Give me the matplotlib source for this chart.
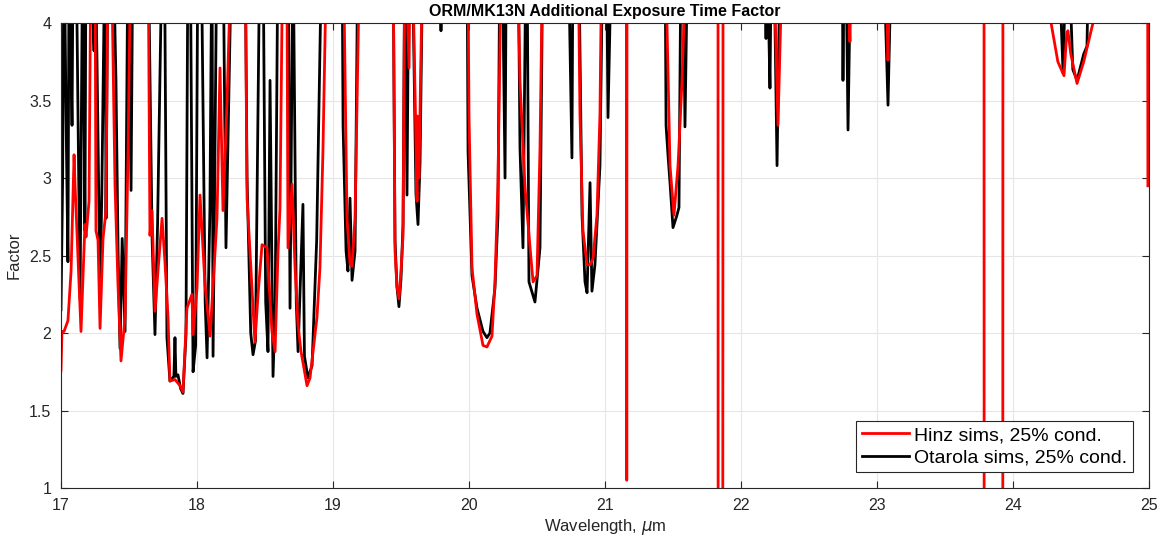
# ORM/MK13N additional exposure time factor, Hinz vs Otarola sims
import numpy as np
import matplotlib
matplotlib.use("Agg")
import matplotlib.pyplot as plt

plt.rcParams['font.family'] = ['Liberation Sans', 'DejaVu Sans']

# values above 4 run off the top of the axes
hinz_wl = [17.000, 17.007, 17.022, 17.051, 17.074, 17.096, 17.103, 17.125, 17.147, 17.176,
           17.184, 17.206, 17.221, 17.250, 17.257, 17.272, 17.287, 17.309, 17.331, 17.346,
           17.368, 17.397, 17.419, 17.441, 17.471, 17.493, 17.515, 17.640, 17.654, 17.669,
           17.691, 17.713, 17.743, 17.765, 17.787, 17.801, 17.838, 17.875, 17.897, 17.926,
           17.963, 17.971, 18.000, 18.022, 18.059, 18.096, 18.147, 18.169, 18.191, 18.221,
           18.257, 18.353, 18.368, 18.426, 18.449, 18.478, 18.515, 18.551, 18.574, 18.596,
           18.610, 18.632, 18.660, 18.669, 18.699, 18.721, 18.743, 18.765, 18.809, 18.831,
           18.853, 18.882, 18.904, 18.926, 18.956, 19.074, 19.103, 19.125, 19.140, 19.162,
           19.199, 19.441, 19.456, 19.470, 19.485, 19.500, 19.515, 19.529, 19.559, 19.570,
           19.581, 19.618, 19.620, 19.632, 19.662, 19.990, 20.000, 20.022, 20.059, 20.103,
           20.132, 20.169, 20.191, 20.213, 20.240, 20.353, 20.375, 20.412, 20.449, 20.471,
           20.500, 20.522, 20.544, 20.801, 20.816, 20.838, 20.868, 20.890, 20.912, 20.941,
           20.963, 20.978, 21.158, 21.160, 21.162, 21.441, 21.478, 21.507, 21.537, 21.566,
           21.603, 21.831, 21.832, 21.866, 21.868, 22.235, 22.272, 22.309, 22.780, 22.801,
           22.815, 23.060, 23.081, 23.100, 23.787, 23.788, 23.925, 23.926, 24.243, 24.280,
           24.330, 24.375, 24.395, 24.404, 24.425, 24.471, 24.520, 24.588, 24.620, 24.990,
           24.992]
hinz_f = [1.76, 2.01, 2.01, 2.08, 2.40, 3.15, 2.96, 2.48, 2.01, 2.70,
          2.62, 2.85, 4.60, 4.60, 2.66, 2.60, 2.03, 2.61, 2.79, 4.60,
          4.60, 2.96, 2.31, 1.82, 2.10, 3.17, 4.60, 4.60, 2.63, 2.79,
          2.14, 2.40, 2.74, 2.45, 2.10, 1.69, 1.70, 1.66, 1.62, 2.16,
          2.25, 1.99, 2.29, 2.89, 2.31, 1.98, 2.74, 3.71, 2.79, 3.50,
          4.60, 4.60, 2.87, 1.94, 2.25, 2.57, 2.55, 2.01, 1.88, 2.53,
          2.80, 4.60, 4.60, 2.55, 2.96, 2.42, 2.05, 1.88, 1.66, 1.71,
          1.88, 2.10, 2.42, 3.17, 4.60, 4.60, 2.74, 2.45, 2.43, 2.74,
          4.60, 4.60, 2.53, 2.30, 2.22, 2.40, 2.63, 4.60, 3.71, 4.60,
          4.60, 2.85, 3.40, 3.00, 4.60, 4.60, 3.40, 2.42, 2.12, 1.92,
          1.91, 1.98, 2.33, 2.97, 4.60, 4.60, 3.62, 2.94, 2.55, 2.33,
          2.37, 3.19, 4.60, 4.60, 3.41, 2.66, 2.44, 2.44, 2.48, 2.76,
          3.41, 4.60, 4.60, 1.05, 4.60, 4.60, 3.08, 2.76, 3.08, 3.62,
          4.60, 4.60, 0.50, 0.50, 4.60, 4.60, 3.34, 4.60, 4.60, 3.88,
          4.60, 4.60, 3.76, 4.60, 4.60, 0.50, 0.50, 4.60, 4.60, 4.00,
          3.75, 3.66, 3.93, 3.95, 3.80, 3.61, 3.75, 4.00, 4.60, 4.60,
          2.95]

otarola_wl = [17.000, 17.012, 17.022, 17.040, 17.051, 17.060, 17.081, 17.090, 17.110, 17.140,
              17.160, 17.176, 17.184, 17.213, 17.243, 17.250, 17.265, 17.287, 17.300, 17.324,
              17.331, 17.346, 17.382, 17.404, 17.420, 17.434, 17.450, 17.471, 17.493, 17.515,
              17.529, 17.640, 17.670, 17.691, 17.710, 17.745, 17.760, 17.779, 17.801, 17.830,
              17.838, 17.845, 17.860, 17.880, 17.897, 17.919, 17.934, 17.950, 17.971, 17.990,
              18.007, 18.030, 18.060, 18.074, 18.095, 18.110, 18.118, 18.147, 18.191, 18.213,
              18.257, 18.353, 18.368, 18.395, 18.412, 18.430, 18.463, 18.485, 18.505, 18.522,
              18.537, 18.559, 18.575, 18.596, 18.670, 18.684, 18.706, 18.730, 18.743, 18.779,
              18.790, 18.816, 18.846, 18.880, 18.904, 18.919, 19.066, 19.074, 19.096, 19.110,
              19.125, 19.140, 19.162, 19.184, 19.441, 19.456, 19.470, 19.485, 19.500, 19.515,
              19.529, 19.544, 19.559, 19.581, 19.610, 19.625, 19.640, 19.662, 19.790, 19.794,
              19.798, 19.985, 19.993, 20.022, 20.059, 20.103, 20.132, 20.154, 20.191, 20.213,
              20.228, 20.243, 20.265, 20.275, 20.360, 20.375, 20.397, 20.420, 20.426, 20.441,
              20.485, 20.522, 20.544, 20.728, 20.757, 20.765, 20.805, 20.831, 20.853, 20.868,
              20.890, 20.904, 20.926, 20.963, 20.985, 21.010, 21.022, 21.051, 21.441, 21.449,
              21.463, 21.478, 21.500, 21.529, 21.544, 21.560, 21.574, 21.588, 21.610, 22.176,
              22.184, 22.190, 22.213, 22.225, 22.240, 22.265, 22.290, 22.743, 22.750, 22.760,
              22.770, 22.787, 22.810, 23.044, 23.081, 23.110, 24.330, 24.368, 24.395, 24.405,
              24.440, 24.471, 24.520, 24.544, 24.560, 25.000]
otarola_f = [2.15, 3.00, 4.60, 3.20, 2.46, 4.60, 3.34, 4.60, 4.60, 2.22,
             4.60, 2.66, 4.60, 4.60, 3.82, 4.60, 3.73, 2.25, 2.90, 4.60,
             2.74, 4.60, 4.60, 3.63, 2.50, 1.90, 2.61, 2.01, 4.60, 2.92,
             4.60, 4.60, 2.60, 1.99, 2.70, 4.60, 4.60, 1.97, 1.69, 1.72,
             1.97, 1.72, 1.73, 1.64, 1.61, 1.99, 4.60, 4.60, 1.75, 1.92,
             4.60, 4.60, 2.20, 1.84, 2.80, 4.60, 1.85, 4.60, 4.60, 2.55,
             4.60, 4.60, 3.00, 2.00, 1.86, 1.95, 4.60, 4.60, 2.20, 1.88,
             3.63, 1.72, 2.20, 4.60, 4.60, 2.16, 4.60, 2.20, 1.88, 2.83,
             1.85, 1.71, 1.79, 2.60, 3.82, 4.60, 4.60, 3.34, 2.53, 2.40,
             2.87, 2.34, 2.53, 4.60, 4.60, 2.60, 2.30, 2.17, 2.35, 2.70,
             4.60, 2.89, 4.60, 4.60, 2.90, 2.70, 3.10, 4.60, 4.60, 3.95,
             4.60, 4.60, 3.17, 2.37, 2.16, 2.01, 1.97, 2.00, 2.29, 2.76,
             4.60, 4.60, 3.00, 4.60, 4.60, 3.19, 2.55, 4.60, 4.60, 2.33,
             2.20, 2.55, 4.60, 4.60, 3.13, 4.60, 4.60, 2.76, 2.33, 2.26,
             2.97, 2.27, 2.44, 3.08, 4.60, 4.60, 3.39, 4.60, 4.60, 3.34,
             3.15, 2.97, 2.68, 2.76, 2.81, 4.60, 4.60, 3.33, 4.60, 4.60,
             3.90, 4.60, 3.58, 4.60, 4.60, 3.08, 4.60, 4.60, 3.63, 4.60,
             4.60, 3.31, 4.60, 4.60, 3.47, 4.60, 4.60, 3.68, 4.60, 4.60,
             3.70, 3.63, 3.80, 3.85, 4.60, 4.60]

xticks = [17, 18, 19, 20, 21, 22, 23, 24, 25]
yticks = [1, 1.5, 2, 2.5, 3, 3.5, 4]
ytick_labels = ["1", "1.5", "2", "2.5", "3", "3.5", "4"]

fig = plt.figure(figsize=(11.62, 5.39), dpi=100)
ax = fig.add_axes([0.0525, 0.0946, 0.9363, 0.8627])

# black first so red sits on top, legend keeps Hinz first
l_ot, = ax.plot(otarola_wl, otarola_f, color='black', lw=2.0)
l_hz, = ax.plot(hinz_wl, hinz_f, color='#ff0000', lw=2.0)

ax.set_xlim(17, 25)
ax.set_ylim(1, 4)
ax.set_xticks(xticks)
ax.set_yticks(yticks)
ax.set_yticklabels(ytick_labels)
ax.grid(True, color='#e6e6e6', lw=0.8)
ax.set_axisbelow(True)
ax.tick_params(direction='in', length=5, width=0.8, top=True, right=True,
               labelsize=11.5, colors='#262626', pad=7)
for s in ax.spines.values():
    s.set_color('#262626')
    s.set_linewidth(0.8)

ax.set_title("ORM/MK13N Additional Exposure Time Factor", fontsize=11.5,
             fontweight='bold', pad=5)
ax.set_xlabel("Wavelength, $\\mu$m", fontsize=12, color='#262626', labelpad=3)
ax.set_ylabel("Factor", fontsize=12, color='#262626', labelpad=5)

leg = ax.legend([l_hz, l_ot], ["Hinz sims, 25% cond.", "Otarola sims, 25% cond."],
                loc='lower right', fontsize=14, fancybox=False, framealpha=1,
                edgecolor='#262626', handlelength=2.4, borderaxespad=0.8,
                labelspacing=0.25, borderpad=0.3, handletextpad=0.3)
leg.get_frame().set_linewidth(0.8)

fig.savefig("out.png", dpi=100)
